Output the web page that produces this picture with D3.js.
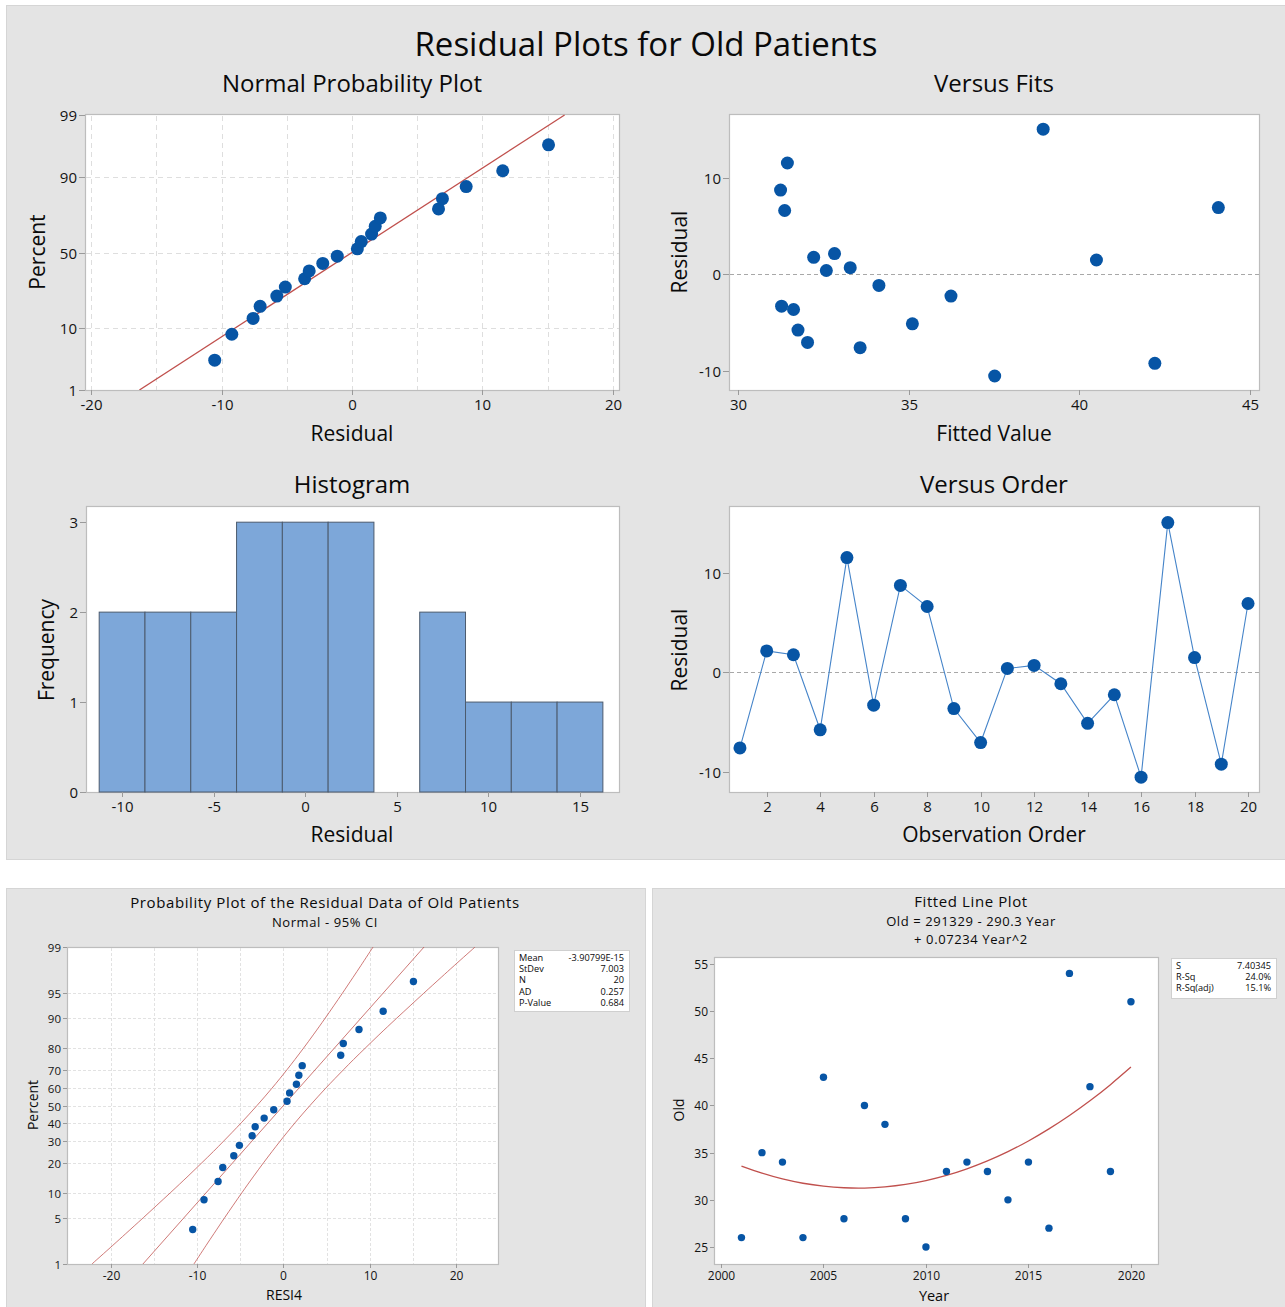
<!DOCTYPE html>
<html>
<head>
<meta charset="utf-8">
<script src="https://cdn.jsdelivr.net/npm/d3@7"></script>
<style>
  body { margin: 0; background: #ffffff; }
  svg { display: block; font-family: "Open Sans", "Noto Sans", sans-serif; }
</style>
</head>
<body>
<svg id="chart" width="1285" height="1307"></svg>
<script>
// ---------- data ----------
const years = [2001, 2002, 2003, 2004, 2005, 2006, 2007, 2008, 2009, 2010,
               2011, 2012, 2013, 2014, 2015, 2016, 2017, 2018, 2019, 2020];
const oldPatients = [26, 35, 34, 26, 43, 28, 40, 38, 28, 25,
                     33, 34, 33, 30, 34, 27, 54, 42, 33, 51];
const fittedValues = [33.58, 32.83, 32.22, 31.76, 31.45, 31.28, 31.25, 31.37, 31.63, 32.04,
                      32.59, 33.29, 34.13, 35.11, 36.24, 37.52, 38.94, 40.50, 42.21, 44.07];
const residuals = [-7.58, 2.17, 1.78, -5.76, 11.55, -3.28, 8.75, 6.63, -3.63, -7.04,
                   0.41, 0.71, -1.13, -5.11, -2.24, -10.52, 15.06, 1.50, -9.21, 6.93];
const observationOrder = [1, 2, 3, 4, 5, 6, 7, 8, 9, 10, 11, 12, 13, 14, 15, 16, 17, 18, 19, 20];

// residuals in ascending order with their plotting percents
const sortedResiduals = [-10.52, -9.21, -7.58, -7.04, -5.76, -5.11, -3.63, -3.28, -2.24, -1.13,
                         0.41, 0.71, 1.50, 1.78, 2.17, 6.63, 6.93, 8.75, 11.55, 15.06];
const plotPercents = [3.43, 8.33, 13.24, 18.14, 23.04, 27.94, 32.84, 37.75, 42.65, 47.55,
                      52.45, 57.35, 62.25, 67.16, 72.06, 76.96, 81.86, 86.76, 91.67, 96.57];

// fitted normal line (mean 0, StDev 7.003) through its 1% and 99% points
const refLineX = [-16.29, 16.29];
const refLineP = [1, 99];

// 95% confidence band
const ciPercents = [1, 2, 3, 5, 10, 15, 20, 25, 30, 40, 50, 60, 70, 75, 80, 85, 90, 95, 97, 98, 99];
const ciLower = [-22.20, -19.79, -18.28, -16.23, -13.12, -11.06, -9.47, -8.12, -6.95, -4.89, -3.07,
                 -1.34, 0.40, 1.32, 2.32, 3.45, 4.83, 6.81, 8.06, 8.97, 10.38];
const ciUpper = [-10.38, -8.97, -8.06, -6.81, -4.83, -3.45, -2.32, -1.32, -0.40, 1.34, 3.07,
                 4.89, 6.95, 8.12, 9.47, 11.06, 13.12, 16.23, 18.28, 19.79, 22.20];

// histogram bins
const binCenters = [-10, -7.5, -5, -2.5, 0, 2.5, 5, 7.5, 10, 12.5, 15];
const binCounts = [2, 2, 2, 3, 3, 3, 0, 2, 1, 1, 1];
const binWidth = 2.5;

// tick labels
const npPercentTicks = [1, 10, 50, 90, 99];
const npResidualTicks = [-20, -10, 0, 10, 20];
const npGridX = [-20, -15, -10, -5, 0, 5, 10, 15, 20];
const fitsTicks = [30, 35, 40, 45];
const residualTicks = [-10, 0, 10];
const histXTicks = [-10, -5, 0, 5, 10, 15];
const histYTicks = [0, 1, 2, 3];
const orderTicks = [2, 4, 6, 8, 10, 12, 14, 16, 18, 20];
const ciPercentTicks = [1, 5, 10, 20, 30, 40, 50, 60, 70, 80, 90, 95, 99];
const ciResidualTicks = [-20, -10, 0, 10, 20];
const ciGridX = [-20, -15, -10, -5, 0, 5, 10, 15, 20];
const yearTicks = [2000, 2005, 2010, 2015, 2020];
const oldTicks = [25, 30, 35, 40, 45, 50, 55];

// summary tables
const probStatLabels = ["Mean", "StDev", "N", "AD", "P-Value"];
const probStatValues = ["-3.90799E-15", "7.003", "20", "0.257", "0.684"];
const fitStatLabels = ["S", "R-Sq", "R-Sq(adj)"];
const fitStatValues = ["7.40345", "24.0%", "15.1%"];

// ---------- helpers ----------
const BLUE = "#0755a5";
const RED = "#c0504d";
const PANEL = "#e4e4e4";
const FRAME = "#bdbdbd";
const INK = "#0a0a0a";

// inverse standard normal CDF (Acklam)
function qnorm(p) {
  const a = [-3.969683028665376e+01, 2.209460984245205e+02, -2.759285104469687e+02,
             1.383577518672690e+02, -3.066479806614716e+01, 2.506628277459239e+00];
  const b = [-5.447609879822406e+01, 1.615858368580409e+02, -1.556989798598866e+02,
             6.680131188771972e+01, -1.328068155288572e+01];
  const c = [-7.784894002430293e-03, -3.223964580411365e-01, -2.400758277161838e+00,
             -2.549671180376011e+00, 4.374664141464968e+00, 2.938163982698783e+00];
  const d = [7.784695709041462e-03, 3.224671290700398e-01, 2.445134137142996e+00,
             3.754408661907416e+00];
  const pl = 0.02425;
  let q, r;
  if (p < pl) {
    q = Math.sqrt(-2 * Math.log(p));
    return (((((c[0]*q+c[1])*q+c[2])*q+c[3])*q+c[4])*q+c[5]) / ((((d[0]*q+d[1])*q+d[2])*q+d[3])*q+1);
  } else if (p <= 1 - pl) {
    q = p - 0.5; r = q * q;
    return (((((a[0]*r+a[1])*r+a[2])*r+a[3])*r+a[4])*r+a[5])*q / (((((b[0]*r+b[1])*r+b[2])*r+b[3])*r+b[4])*r+1);
  } else {
    q = Math.sqrt(-2 * Math.log(1 - p));
    return -(((((c[0]*q+c[1])*q+c[2])*q+c[3])*q+c[4])*q+c[5]) / ((((d[0]*q+d[1])*q+d[2])*q+d[3])*q+1);
  }
}

// probability-axis scale: percent -> pixel through the normal quantile
function probScale(pMin, pMax, bottom, top) {
  const lin = d3.scaleLinear().domain([qnorm(pMin / 100), qnorm(pMax / 100)]).range([bottom, top]);
  return p => lin(qnorm(p / 100));
}

const svg = d3.select("#chart");

function panel(x, y, w, h) {
  svg.append("rect").attr("x", x + 0.5).attr("y", y + 0.5).attr("width", w).attr("height", h)
    .attr("fill", PANEL).attr("stroke", "#d5d5d5");
}

function text(x, y, str, size, opts = {}) {
  const t = svg.append("text").attr("x", x).attr("y", y).text(str)
    .attr("font-size", size).attr("fill", opts.fill || INK)
    .attr("text-anchor", opts.anchor || "middle");
  if (opts.weight) t.attr("font-weight", opts.weight);
  if (opts.spacing) t.attr("letter-spacing", opts.spacing);
  if (opts.rotate) t.attr("transform", `rotate(-90,${x},${y})`);
  return t;
}

function plotArea(l, t, r, b) {
  svg.append("rect").attr("x", l + 0.5).attr("y", t + 0.5).attr("width", r - l).attr("height", b - t)
    .attr("fill", "#fff").attr("stroke", FRAME).attr("stroke-width", 1.2);
}

function xTicks(scale, values, bottom, size, fmt, tickLen) {
  const g = svg.append("g");
  values.forEach(v => {
    const x = Math.round(scale(v)) + 0.5;
    g.append("line").attr("x1", x).attr("x2", x).attr("y1", bottom).attr("y2", bottom + tickLen)
      .attr("stroke", "#9a9a9a");
    g.append("text").attr("x", x).attr("y", bottom + tickLen + size * 1.02)
      .attr("text-anchor", "middle").attr("font-size", size).attr("fill", "#141414")
      .text(fmt ? fmt(v) : v);
  });
}

function yTicks(scale, values, left, size, tickLen) {
  const g = svg.append("g");
  values.forEach(v => {
    const y = Math.round(scale(v)) + 0.5;
    g.append("line").attr("x1", left - tickLen).attr("x2", left).attr("y1", y).attr("y2", y)
      .attr("stroke", "#9a9a9a");
    g.append("text").attr("x", left - tickLen - 2).attr("y", y).attr("dy", "0.35em")
      .attr("text-anchor", "end").attr("font-size", size).attr("fill", "#141414")
      .text(v);
  });
}

const minus = v => (v < 0 ? "-" + Math.abs(v) : String(v));

// ---------- top panel: residual plots ----------
panel(6, 5, 1285, 854);
text(646, 56, "Residual Plots for Old Patients", 33);

// Normal probability plot
{
  const L = 85, T = 114, R = 619, B = 390;
  const x = d3.scaleLinear().domain([-20.46, 20.46]).range([L, R]);
  const y = probScale(1, 99, B, T + 1);
  text(352, 92, "Normal Probability Plot", 24);
  plotArea(L, T, R, B);
  const grid = svg.append("g").attr("stroke", "#dedede").attr("stroke-dasharray", "5,4");
  npGridX.forEach(v => grid.append("line").attr("x1", Math.round(x(v)) + 0.5).attr("x2", Math.round(x(v)) + 0.5)
    .attr("y1", T + 2).attr("y2", B));
  [10, 50, 90].forEach(p => grid.append("line").attr("x1", L + 1).attr("x2", R)
    .attr("y1", Math.round(y(p)) + 0.5).attr("y2", Math.round(y(p)) + 0.5));
  svg.append("clipPath").attr("id", "npclip").append("rect")
    .attr("x", L).attr("y", T).attr("width", R - L).attr("height", B - T);
  svg.append("line").attr("clip-path", "url(#npclip)")
    .attr("x1", x(refLineX[0])).attr("y1", y(refLineP[0]))
    .attr("x2", x(refLineX[1])).attr("y2", y(refLineP[1]))
    .attr("stroke", RED).attr("stroke-width", 1.3);
  svg.append("g").selectAll("circle").data(sortedResiduals).join("circle")
    .attr("cx", d => x(d)).attr("cy", (d, i) => y(plotPercents[i])).attr("r", 6.5).attr("fill", BLUE);
  xTicks(x, npResidualTicks, B, 15, minus, 5);
  yTicks(y, npPercentTicks, L, 15, 6);
  text(352, 441, "Residual", 21);
  text(45, 252, "Percent", 21, { rotate: true });
}

// Versus fits
{
  const L = 729, T = 114, R = 1259, B = 390;
  const x = d3.scaleLinear().domain([29.74, 45.26]).range([L, R]);
  const y = d3.scaleLinear().domain([-11.97, 16.63]).range([B, T]);
  text(994, 92, "Versus Fits", 24);
  plotArea(L, T, R, B);
  svg.append("line").attr("x1", L + 1).attr("x2", R).attr("y1", Math.round(y(0)) + 0.5).attr("y2", Math.round(y(0)) + 0.5)
    .attr("stroke", "#a8a8a8").attr("stroke-dasharray", "4,3");
  svg.append("g").selectAll("circle").data(fittedValues).join("circle")
    .attr("cx", d => x(d)).attr("cy", (d, i) => y(residuals[i])).attr("r", 6.5).attr("fill", BLUE);
  xTicks(x, fitsTicks, B, 15, null, 5);
  yTicks(y, residualTicks, L, 15, 6);
  text(994, 441, "Fitted Value", 21);
  text(687, 252, "Residual", 21, { rotate: true });
}

// Histogram
{
  const L = 86, T = 506, R = 619, B = 792;
  const x = d3.scaleLinear().domain([-11.97, 17.13]).range([L, R]);
  const y = d3.scaleLinear().domain([0, 3.18]).range([B, T]);
  text(352, 493, "Histogram", 24);
  plotArea(L, T, R, B);
  svg.append("g").selectAll("rect").data(binCenters).join("rect")
    .attr("x", d => x(d - binWidth / 2))
    .attr("width", x(binWidth) - x(0))
    .attr("y", (d, i) => y(binCounts[i]))
    .attr("height", (d, i) => B - y(binCounts[i]))
    .attr("fill", "#7da7d9").attr("stroke", "#4c5b6e").attr("stroke-width", 1);
  xTicks(x, histXTicks, B, 15, minus, 5);
  yTicks(y, histYTicks, L, 15, 6);
  text(352, 842, "Residual", 21);
  text(54, 650, "Frequency", 21, { rotate: true });
}

// Versus order
{
  const L = 729, T = 506, R = 1259, B = 792;
  const x = d3.scaleLinear().domain([0.59, 20.41]).range([L, R]);
  const y = d3.scaleLinear().domain([-12.01, 16.73]).range([B, T]);
  text(994, 493, "Versus Order", 24);
  plotArea(L, T, R, B);
  svg.append("line").attr("x1", L + 1).attr("x2", R).attr("y1", Math.round(y(0)) + 0.5).attr("y2", Math.round(y(0)) + 0.5)
    .attr("stroke", "#a8a8a8").attr("stroke-dasharray", "4,3");
  const line = d3.line().x((d, i) => x(observationOrder[i])).y(d => y(d));
  svg.append("path").attr("d", line(residuals)).attr("fill", "none")
    .attr("stroke", "#4584c9").attr("stroke-width", 1.1);
  svg.append("g").selectAll("circle").data(residuals).join("circle")
    .attr("cx", (d, i) => x(observationOrder[i])).attr("cy", d => y(d)).attr("r", 6.5).attr("fill", BLUE);
  xTicks(x, orderTicks, B, 15, null, 5);
  yTicks(y, residualTicks, L, 15, 6);
  text(994, 842, "Observation Order", 21);
  text(687, 650, "Residual", 21, { rotate: true });
}

// ---------- bottom left: probability plot with 95% CI ----------
panel(6, 888, 639, 420);
{
  const L = 67, T = 947, R = 498, B = 1264;
  const x = d3.scaleLinear().domain([-25.09, 24.86]).range([L, R]);
  const y = probScale(1, 99, B, T);
  text(325, 908, "Probability Plot of the Residual Data of Old Patients", 15, { spacing: 0.6 });
  text(325, 927, "Normal - 95% CI", 13, { spacing: 0.6 });
  plotArea(L, T, R, B);
  const grid = svg.append("g").attr("stroke", "#e2e2e2").attr("stroke-dasharray", "3,2");
  ciGridX.forEach(v => grid.append("line").attr("x1", Math.round(x(v)) + 0.5).attr("x2", Math.round(x(v)) + 0.5)
    .attr("y1", T + 1).attr("y2", B));
  ciPercentTicks.filter(p => p > 1 && p < 99).forEach(p => grid.append("line")
    .attr("x1", L + 1).attr("x2", R).attr("y1", Math.round(y(p)) + 0.5).attr("y2", Math.round(y(p)) + 0.5));
  svg.append("clipPath").attr("id", "ciclip").append("rect")
    .attr("x", L).attr("y", T).attr("width", R - L).attr("height", B - T);
  const band = d3.line().curve(d3.curveCatmullRom);
  const lo = ciPercents.map((p, i) => [x(ciLower[i]), y(p)]);
  const hi = ciPercents.map((p, i) => [x(ciUpper[i]), y(p)]);
  [lo, hi].forEach(pts => svg.append("path").attr("clip-path", "url(#ciclip)").attr("d", band(pts))
    .attr("fill", "none").attr("stroke", RED).attr("stroke-width", 0.9).attr("opacity", 0.85));
  svg.append("line").attr("clip-path", "url(#ciclip)")
    .attr("x1", x(refLineX[0])).attr("y1", y(refLineP[0]))
    .attr("x2", x(refLineX[1])).attr("y2", y(refLineP[1]))
    .attr("stroke", RED).attr("stroke-width", 0.9).attr("opacity", 0.85);
  svg.append("g").selectAll("circle").data(sortedResiduals).join("circle")
    .attr("cx", d => x(d)).attr("cy", (d, i) => y(plotPercents[i])).attr("r", 3.7).attr("fill", BLUE);
  xTicks(x, ciResidualTicks, B, 12, minus, 4);
  yTicks(y, ciPercentTicks, L, 11.5, 4);
  text(284, 1299.5, "RESI4", 14);
  text(38, 1105, "Percent", 14, { rotate: true });

  // summary box
  svg.append("rect").attr("x", 514.5).attr("y", 950.5).attr("width", 115).attr("height", 61)
    .attr("fill", "#fff").attr("stroke", "#cfcfcf");
  probStatLabels.forEach((lab, i) => {
    text(519, 960.5 + i * 11.4, lab, 9.2, { anchor: "start" });
    text(624, 960.5 + i * 11.4, probStatValues[i], 9.2, { anchor: "end" });
  });
}

// ---------- bottom right: fitted line plot ----------
panel(652, 888, 640, 420);
{
  const L = 714, T = 957, R = 1158, B = 1264;
  const x = d3.scaleLinear().domain([1999.66, 2021.32]).range([L, R]);
  const y = d3.scaleLinear().domain([23.2, 55.74]).range([B, T]);
  text(971, 907, "Fitted Line Plot", 15, { spacing: 0.6 });
  text(971, 926, "Old = 291329 - 290.3 Year", 13, { spacing: 0.6 });
  text(971, 944, "+ 0.07234 Year^2", 13, { spacing: 0.6 });
  plotArea(L, T, R, B);
  const curve = d3.line().curve(d3.curveNatural).x((d, i) => x(years[i])).y(d => y(d));
  svg.append("path").attr("d", curve(fittedValues)).attr("fill", "none")
    .attr("stroke", RED).attr("stroke-width", 1.3);
  svg.append("g").selectAll("circle").data(oldPatients).join("circle")
    .attr("cx", (d, i) => x(years[i])).attr("cy", d => y(d)).attr("r", 3.7).attr("fill", BLUE);
  xTicks(x, yearTicks, B, 12, null, 4);
  yTicks(y, oldTicks, L, 12, 4);
  text(934, 1300.5, "Year", 14.5);
  text(684, 1110, "Old", 14, { rotate: true });

  svg.append("rect").attr("x", 1171.5).attr("y", 958.5).attr("width", 105).attr("height", 40)
    .attr("fill", "#fff").attr("stroke", "#cfcfcf");
  fitStatLabels.forEach((lab, i) => {
    text(1176, 968.5 + i * 11.2, lab, 9.2, { anchor: "start" });
    text(1271, 968.5 + i * 11.2, fitStatValues[i], 9.2, { anchor: "end" });
  });
}
</script>
</body>
</html>
